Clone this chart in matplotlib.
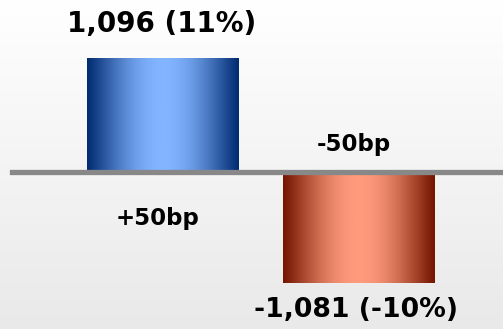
import numpy as np
import matplotlib
matplotlib.use("Agg")
import matplotlib.pyplot as plt
from matplotlib.colors import LinearSegmentedColormap

# Sensitivity of net interest income to a parallel rate shift
scenarios = ["+50bp", "-50bp"]
impact = [1096, -1081]
value_labels = ["1,096 (11%)", "-1,081 (-10%)"]

W, H, DPI = 503, 329, 100
fig = plt.figure(figsize=(W / DPI, H / DPI), dpi=DPI)

# soft vertical background gradient
bg = fig.add_axes([0, 0, 1, 1], zorder=0)
bg.imshow(np.linspace(0, 1, 256).reshape(-1, 1), aspect="auto",
          cmap=LinearSegmentedColormap.from_list("bg", ["#ffffff", "#e9e9e9"]),
          extent=[0, 1, 0, 1], origin="upper")
bg.set_axis_off()

ax = fig.add_axes([0, 0, 1, 1], zorder=1)
ax.patch.set_alpha(0)
ax.set_axis_off()

x = np.arange(len(scenarios))
px_x = 196.0                    # pixels per category step
px_y = 0.1035                   # pixels per unit
zero_px = 171.5                 # zero line, pixels from top
xlim = (-163 / px_x, 1 + (W - 359) / px_x)
ylim = (-(H - zero_px) / px_y, zero_px / px_y)

bars = ax.bar(x, impact, width=152 / px_x, facecolor="none", edgecolor="none")

# metallic horizontal shading inside each bar
t = np.linspace(0, 1, 300)
profile = np.clip(np.sin(np.pi * t) ** 1.1, 0, 1)
shades = [("#012c72", "#82b4ff"), ("#741600", "#ff9a7c")]
for bar, (dark, light) in zip(bars, shades):
    cmap = LinearSegmentedColormap.from_list("shade", [dark, light])
    x0, y0 = bar.get_x(), bar.get_y()
    w, h = bar.get_width(), bar.get_height()
    im = ax.imshow(profile.reshape(1, -1), aspect="auto", cmap=cmap,
                   extent=[x0, x0 + w, y0, y0 + h], vmin=0, vmax=1, zorder=2)
    im.set_clip_path(bar)

ax.set_xlim(*xlim)
ax.set_ylim(*ylim)

# zero line
ax.axhline(0, xmin=12 / W, xmax=1, color="#888888", lw=3.8, zorder=3)

font = dict(family="DejaVu Sans", weight="bold", color="black")

# value labels beyond the bar ends
for xi, v, lab in zip(x, impact, value_labels):
    dx, dy, fs = (-1.5, 26, 20) if v > 0 else (-3.5, -34, 19.2)
    ax.annotate(lab, (xi, v), xytext=(dx, dy), textcoords="offset pixels",
                ha="center", va="baseline", fontsize=fs, **font)

# scenario names on the opposite side of the zero line
for xi, v, name in zip(x, impact, scenarios):
    dy = -53 if v > 0 else 20
    ax.annotate(name, (xi, 0), xytext=(-5, dy), textcoords="offset pixels",
                ha="center", va="baseline", fontsize=16.5, **font)

fig.savefig("out.png", dpi=DPI)
